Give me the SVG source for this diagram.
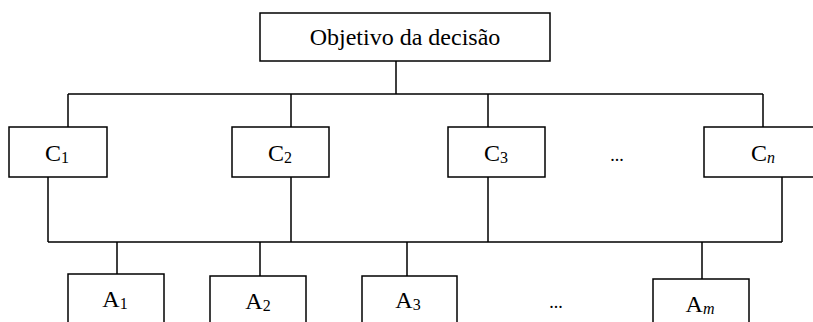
<svg xmlns="http://www.w3.org/2000/svg" width="813" height="322" viewBox="0 0 813 322">
<style>
.box{fill:#fff;stroke:#000;stroke-width:1.5}
.ln{fill:none;stroke:#000;stroke-width:1.5}
text{font-family:"Liberation Serif","Times New Roman",serif;font-size:24px;fill:#000;text-anchor:middle}
.sub{font-size:16px}
.it{font-style:italic}
</style>
<rect width="813" height="322" fill="#fff"/>
<g id="connectors">
<path class="ln" d="M396,61V94M68,94H763M68,94V127M291,94V127M488,94V127M763,94V127"/>
<path class="ln" d="M48,177V242M291,177V242M488,177V242M782,177V242M48,242H782"/>
<path class="ln" d="M117,242V274M260,242V276M407,242V276M702,242V279"/>
</g>
<g id="goal"><rect class="box" x="260" y="13" width="290" height="48"/><text x="405" y="45">Objetivo da decisão</text></g>
<g id="c1"><rect class="box" x="9" y="127" width="98" height="50"/><text x="57" y="161">C<tspan class="sub" dy="2">1</tspan></text></g>
<g id="c2"><rect class="box" x="232" y="127" width="97" height="50"/><text x="280" y="161">C<tspan class="sub" dy="2">2</tspan></text></g>
<g id="c3"><rect class="box" x="448" y="127" width="97" height="50"/><text x="496" y="161">C<tspan class="sub" dy="2">3</tspan></text></g>
<g id="cdots"><text x="617" y="161" style="font-size:18px">...</text></g>
<g id="cn"><rect class="box" x="704" y="127" width="120" height="50"/><text x="763" y="161">C<tspan class="sub it" dy="2">n</tspan></text></g>
<g id="a1"><rect class="box" x="68" y="274" width="96" height="60"/><text x="115" y="307">A<tspan class="sub" dy="2">1</tspan></text></g>
<g id="a2"><rect class="box" x="210" y="276" width="96" height="60"/><text x="258" y="309">A<tspan class="sub" dy="2">2</tspan></text></g>
<g id="a3"><rect class="box" x="362" y="276" width="95" height="60"/><text x="408" y="308">A<tspan class="sub" dy="2">3</tspan></text></g>
<g id="adots"><text x="556" y="308" style="font-size:18px">...</text></g>
<g id="am"><rect class="box" x="653" y="279" width="96" height="60"/><text x="700" y="312">A<tspan class="sub it" dy="2">m</tspan></text></g>
</svg>
